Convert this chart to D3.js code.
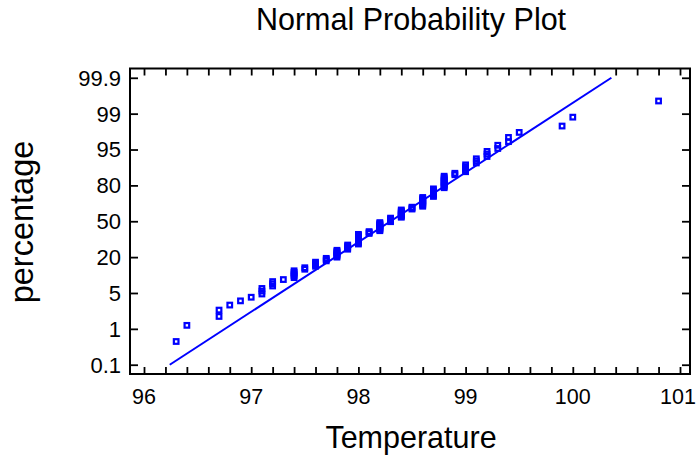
<!DOCTYPE html>
<html>
<head>
<meta charset="utf-8">
<script src="https://cdn.jsdelivr.net/npm/d3@7"></script>
<style>
  body { margin: 0; background: #fff; }
  text { font-family: "Liberation Sans", Arial, sans-serif; fill: #000; }
</style>
</head>
<body>
<div id="chart"></div>
<script>
// Body temperature values (deg F) and how many times each occurs
const temps  = [96.3, 96.4, 96.7, 96.8, 96.9, 97.0, 97.1, 97.2, 97.3, 97.4, 97.5, 97.6, 97.7, 97.8, 97.9,
                98.0, 98.1, 98.2, 98.3, 98.4, 98.5, 98.6, 98.7, 98.8, 98.9, 99.0, 99.1, 99.2, 99.3, 99.4,
                99.5, 99.9, 100.0, 100.8];
const counts = [1, 1, 2, 1, 1, 1, 3, 3, 1, 5, 2, 4, 3, 7, 5,
                11, 3, 10, 5, 9, 3, 10, 8, 10, 2, 5, 3, 3, 2, 2,
                1, 1, 1, 1];

// fitted reference line (temperature at the 0.1 and 99.9 levels)
const lineTemps = [96.24, 100.36];

const xTicks = d3.range(96, 101.001, 0.2);
const xLabels = [96, 97, 98, 99, 100, 101];
const yLabels = ["0.1", "1", "5", "20", "50", "80", "95", "99", "99.9"];

const width = 696, height = 455;
const margin = {top: 68.5, left: 130, right: 6, bottom: 81};
const w = width - margin.left - margin.right;
const h = height - margin.top - margin.bottom;

// inverse normal cdf (Acklam)
function qnorm(p) {
  const a = [-3.969683028665376e+01, 2.209460984245205e+02, -2.759285104469687e+02, 1.383577518672690e+02, -3.066479806614716e+01, 2.506628277459239e+00];
  const b = [-5.447609879822406e+01, 1.615858368580409e+02, -1.556989798598866e+02, 6.680131188771972e+01, -1.328068155288572e+01];
  const c = [-7.784894002430293e-03, -3.223964580411365e-01, -2.400758277161838e+00, -2.549732539343734e+00, 4.374664141464968e+00, 2.938163982698783e+00];
  const d = [7.784695709041462e-03, 3.224671290700398e-01, 2.445134137142996e+00, 3.754408661907416e+00];
  const pl = 0.02425;
  let q, r;
  if (p < pl) {
    q = Math.sqrt(-2 * Math.log(p));
    return (((((c[0]*q+c[1])*q+c[2])*q+c[3])*q+c[4])*q+c[5]) / ((((d[0]*q+d[1])*q+d[2])*q+d[3])*q+1);
  } else if (p <= 1 - pl) {
    q = p - 0.5; r = q * q;
    return (((((a[0]*r+a[1])*r+a[2])*r+a[3])*r+a[4])*r+a[5])*q / (((((b[0]*r+b[1])*r+b[2])*r+b[3])*r+b[4])*r+1);
  }
  q = Math.sqrt(-2 * Math.log(1 - p));
  return -(((((c[0]*q+c[1])*q+c[2])*q+c[3])*q+c[4])*q+c[5]) / ((((d[0]*q+d[1])*q+d[2])*q+d[3])*q+1);
}

// expand to individual observations, ranked, with plotting positions
const obs = [];
temps.forEach((t, i) => { for (let k = 0; k < counts[i]; k++) obs.push(t); });
const n = obs.length;
const points = obs.map((t, i) => ({t: t, z: qnorm((i + 1 - 0.375) / (n + 0.25))}));

const zEnd = 3.09;
const zTicks = yLabels.map((d, i) => -zEnd + i * (2 * zEnd / (yLabels.length - 1)));

const x = d3.scaleLinear().domain([96, 101]).range([14, 550]);
const y = d3.scaleLinear().domain([-3.29, 3.29]).range([h, 0]);

const svg = d3.select('#chart').append('svg')
    .attr('width', width)
    .attr('height', height);

const chart = svg.append('g')
    .attr('transform', `translate(${margin.left},${margin.top})`);

// axes with inward ticks on all four sides
const xAxisB = d3.axisBottom(x).tickValues(xTicks).tickSize(-7).tickFormat('');
const xAxisT = d3.axisTop(x).tickValues(xTicks).tickSize(-7).tickFormat('');
const yAxisL = d3.axisLeft(y).tickValues(zTicks).tickSize(-8).tickFormat('');
const yAxisR = d3.axisRight(y).tickValues(zTicks).tickSize(-8).tickFormat('');

const styleAxis = g => {
  g.select('.domain').remove();
  g.selectAll('.tick line').attr('stroke', '#000').attr('stroke-width', 1.8);
};

chart.append('g').attr('transform', `translate(0,${h})`).call(xAxisB).call(styleAxis);
chart.append('g').call(xAxisT).call(styleAxis);
chart.append('g').call(yAxisL).call(styleAxis);
chart.append('g').attr('transform', `translate(${w},0)`).call(yAxisR).call(styleAxis);

chart.append('rect')
    .attr('width', w)
    .attr('height', h)
    .attr('fill', 'none')
    .attr('stroke', '#000')
    .attr('stroke-width', 2);

// tick labels
chart.selectAll('.xlab')
  .data(xLabels)
  .join('text')
    .attr('class', 'xlab')
    .attr('x', d => x(d) - (d === 101 ? 2 : 0))
    .attr('y', h + 29.5)
    .attr('text-anchor', 'middle')
    .style('font-size', '21.5px')
    .text(d => d);

chart.selectAll('.ylab')
  .data(yLabels)
  .join('text')
    .attr('class', 'ylab')
    .attr('x', -9)
    .attr('y', (d, i) => y(zTicks[i]))
    .attr('dy', '0.36em')
    .attr('text-anchor', 'end')
    .style('font-size', '22px')
    .text(d => d);

// fitted line
chart.append('line')
    .attr('x1', x(lineTemps[0]))
    .attr('y1', y(-zEnd))
    .attr('x2', x(lineTemps[1]))
    .attr('y2', y(zEnd))
    .attr('stroke', '#0000ff')
    .attr('stroke-width', 2);

// data points
chart.selectAll('.pt')
  .data(points)
  .join('rect')
    .attr('class', 'pt')
    .attr('x', d => x(d.t) - 2.3)
    .attr('y', d => y(d.z) - 2.3)
    .attr('width', 4.6)
    .attr('height', 4.6)
    .attr('fill', 'none')
    .attr('stroke', '#0000ff')
    .attr('stroke-width', 2.2);

// titles
svg.append('text')
    .attr('x', 411)
    .attr('y', 30)
    .attr('text-anchor', 'middle')
    .style('font-size', '30.5px')
    .text('Normal Probability Plot');

svg.append('text')
    .attr('x', 411)
    .attr('y', 448)
    .attr('text-anchor', 'middle')
    .style('font-size', '30.5px')
    .text('Temperature');

svg.append('text')
    .attr('transform', 'translate(33,222) rotate(-90)')
    .attr('text-anchor', 'middle')
    .style('font-size', '32.5px')
    .text('percentage');
</script>
</body>
</html>
